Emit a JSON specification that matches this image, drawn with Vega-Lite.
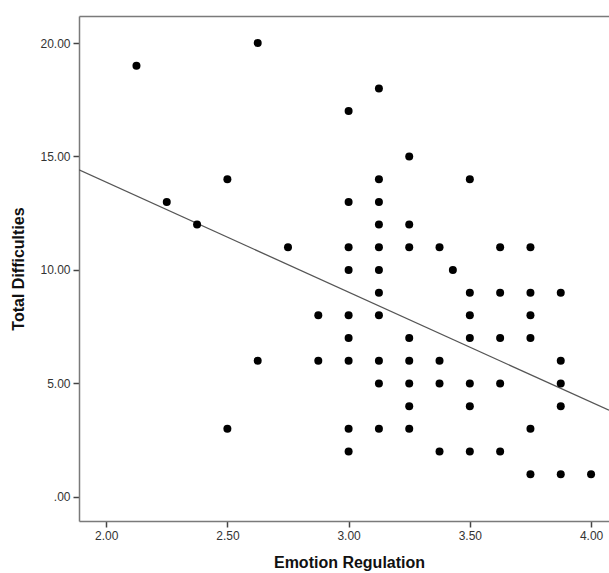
{
  "$schema": "https://vega.github.io/schema/vega-lite/v6.json",
  "width": 530,
  "height": 505,
  "autosize": "none",
  "padding": {"left": 79, "top": 16, "right": 0, "bottom": 52},
  "background": "white",
  "config": {
    "view": {"stroke": null},
    "font": "Liberation Sans",
    "axis": {
      "grid": false,
      "domainColor": "#7a7a7a",
      "domainWidth": 1.5,
      "tickColor": "#444444",
      "tickSize": 6,
      "tickWidth": 1.5,
      "labelColor": "#333333",
      "labelFont": "Liberation Sans",
      "labelFontSize": 12,
      "titleFont": "Liberation Sans",
      "titleFontSize": 16,
      "titleFontWeight": "bold",
      "titleColor": "#111111"
    }
  },
  "datasets": {
    "pts": [
      {"er": 2.125, "td": 19}, {"er": 2.25, "td": 13}, {"er": 2.375, "td": 12},
      {"er": 2.5, "td": 14}, {"er": 2.5, "td": 3},
      {"er": 2.625, "td": 20}, {"er": 2.625, "td": 6},
      {"er": 2.75, "td": 11},
      {"er": 2.875, "td": 8}, {"er": 2.875, "td": 6},
      {"er": 3.0, "td": 17}, {"er": 3.0, "td": 13}, {"er": 3.0, "td": 11}, {"er": 3.0, "td": 10}, {"er": 3.0, "td": 8}, {"er": 3.0, "td": 7}, {"er": 3.0, "td": 6}, {"er": 3.0, "td": 3}, {"er": 3.0, "td": 2},
      {"er": 3.125, "td": 18}, {"er": 3.125, "td": 14}, {"er": 3.125, "td": 13}, {"er": 3.125, "td": 12}, {"er": 3.125, "td": 11}, {"er": 3.125, "td": 10}, {"er": 3.125, "td": 9}, {"er": 3.125, "td": 8}, {"er": 3.125, "td": 6}, {"er": 3.125, "td": 5}, {"er": 3.125, "td": 3},
      {"er": 3.25, "td": 15}, {"er": 3.25, "td": 12}, {"er": 3.25, "td": 11}, {"er": 3.25, "td": 7}, {"er": 3.25, "td": 6}, {"er": 3.25, "td": 5}, {"er": 3.25, "td": 4}, {"er": 3.25, "td": 3},
      {"er": 3.375, "td": 11}, {"er": 3.375, "td": 6}, {"er": 3.375, "td": 5}, {"er": 3.375, "td": 2},
      {"er": 3.43, "td": 10},
      {"er": 3.5, "td": 14}, {"er": 3.5, "td": 9}, {"er": 3.5, "td": 8}, {"er": 3.5, "td": 7}, {"er": 3.5, "td": 5}, {"er": 3.5, "td": 4}, {"er": 3.5, "td": 2},
      {"er": 3.625, "td": 11}, {"er": 3.625, "td": 9}, {"er": 3.625, "td": 7}, {"er": 3.625, "td": 5}, {"er": 3.625, "td": 2},
      {"er": 3.75, "td": 11}, {"er": 3.75, "td": 9}, {"er": 3.75, "td": 8}, {"er": 3.75, "td": 7}, {"er": 3.75, "td": 3}, {"er": 3.75, "td": 1},
      {"er": 3.875, "td": 9}, {"er": 3.875, "td": 6}, {"er": 3.875, "td": 5}, {"er": 3.875, "td": 4}, {"er": 3.875, "td": 1},
      {"er": 4.0, "td": 1}
    ],
    "fit": [
      {"er": 1.888, "td": 14.41},
      {"er": 4.074, "td": 3.82}
    ]
  },
  "resolve": {"axis": {"x": "independent"}},
  "layer": [
    {
      "data": {"name": "fit"},
      "mark": {"type": "line", "color": "#555555", "strokeWidth": 1.3, "clip": true},
      "encoding": {
        "x": {
          "field": "er", "type": "quantitative",
          "scale": {"domain": [1.888, 4.074], "nice": false, "zero": false},
          "axis": {
            "title": "Emotion Regulation",
            "values": [2, 2.5, 3, 3.5, 4],
            "format": ".2f",
            "labelPadding": 3,
            "titlePadding": 13,
            "titleX": 270
          }
        },
        "y": {
          "field": "td", "type": "quantitative",
          "scale": {"domain": [-1.06, 21.19], "nice": false, "zero": false},
          "axis": {
            "title": "Total Difficulties",
            "values": [0, 5, 10, 15, 20],
            "labelExpr": "datum.value == 0 ? '.00' : format(datum.value, '.2f')",
            "labelPadding": 3,
            "titlePadding": 13
          }
        }
      }
    },
    {
      "data": {"name": "pts"},
      "mark": {"type": "circle", "color": "black", "opacity": 1, "size": 64},
      "encoding": {
        "x": {
          "field": "er", "type": "quantitative",
          "axis": {"orient": "top", "title": null, "labels": false, "ticks": false, "domainColor": "#7a7a7a"}
        },
        "y": {"field": "td", "type": "quantitative"}
      }
    }
  ]
}
